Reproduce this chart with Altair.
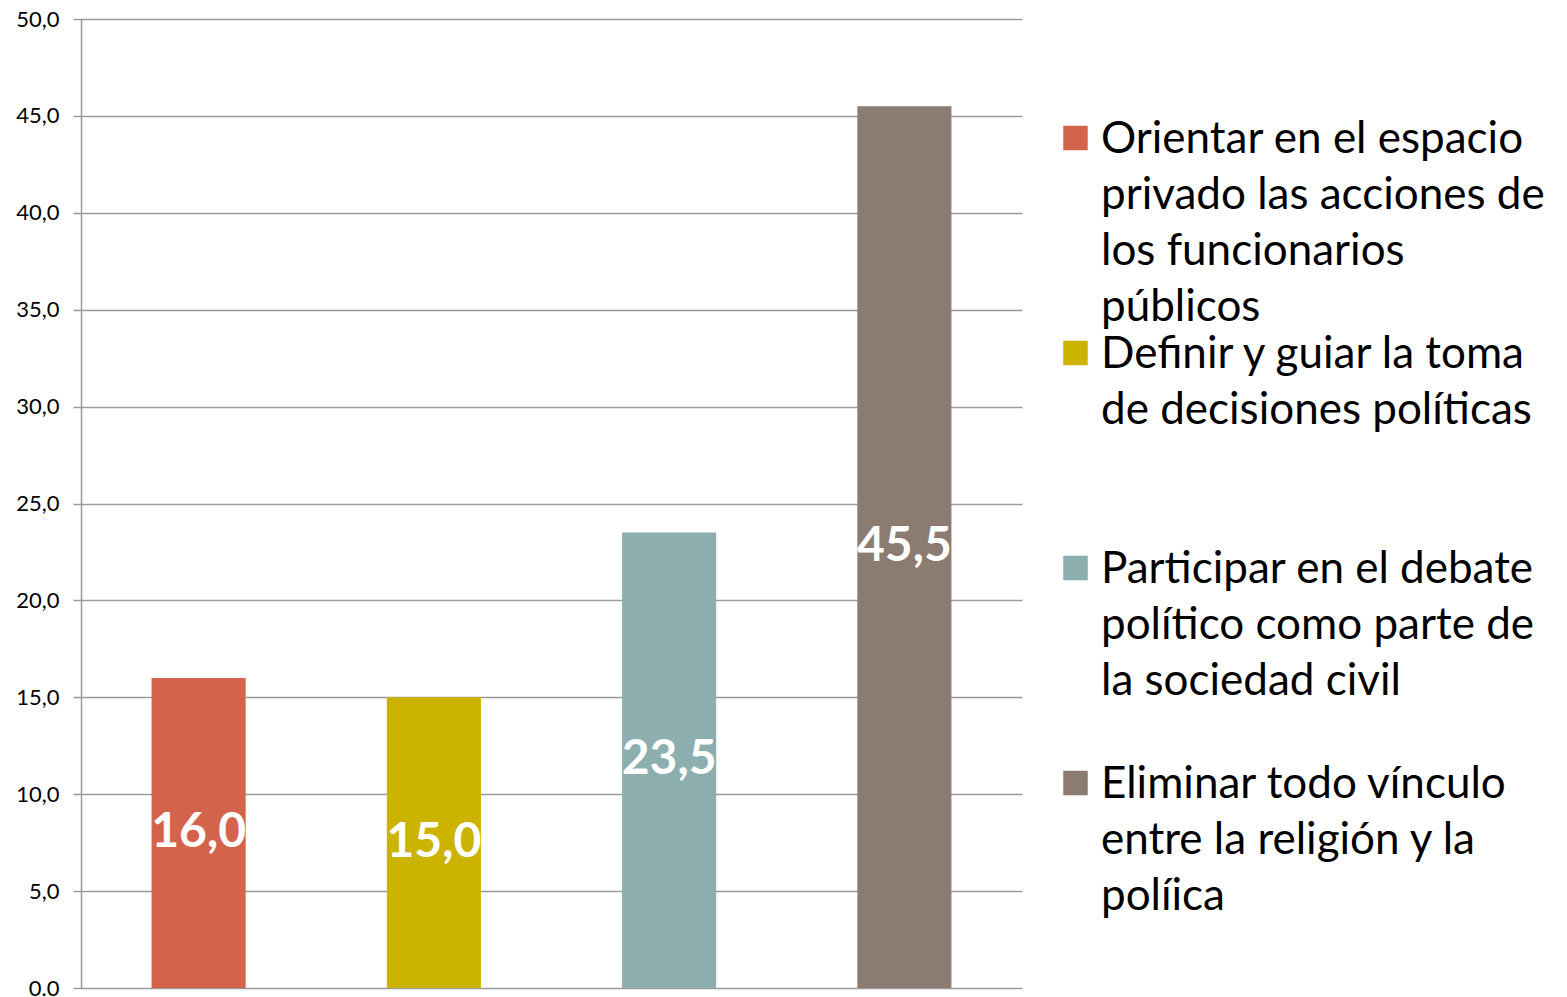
import altair as alt
import pandas as pd

categories = [
    "Orientar en el espacio privado las acciones de los funcionarios públicos",
    "Definir y guiar la toma de decisiones políticas",
    "Participar en el debate político como parte de la sociedad civil",
    "Eliminar todo vínculo entre la religión y la políica",
]
legend_lines = [
    "Orientar en el espacio|privado las acciones de|los funcionarios|públicos",
    "Definir y guiar la toma|de decisiones políticas",
    "Participar en el debate|político como parte de|la sociedad civil",
    "Eliminar todo vínculo|entre la religión y la|políica",
]
values = [16.0, 15.0, 23.5, 45.5]
colors = ["#D3644B", "#CCB300", "#8DAEAF", "#8C7B70"]

FONT = "Lato"
GRID = "#9a9a9a"

df = pd.DataFrame({"cat": categories, "value": values, "legend": legend_lines})

x = alt.X("cat:N", sort=categories, axis=None,
          scale=alt.Scale(paddingInner=0.6, paddingOuter=0.3))
color = alt.Color("cat:N", scale=alt.Scale(domain=categories, range=colors), legend=None)

base = alt.Chart(df).transform_calculate(
    mid="datum.value / 2",
    label="replace(format(datum.value, '.1f'), '.', ',')",
)

bars = base.mark_bar().encode(
    x=x,
    y=alt.Y("value:Q",
            scale=alt.Scale(domain=[0, 50], nice=False),
            axis=alt.Axis(values=list(range(0, 51, 5)), title=None,
                          labelExpr="datum.value == 0 ? '0.0' : replace(format(datum.value, '.1f'), '.', ',')",
                          labelFont=FONT, labelFontSize=22, labelColor="#000000",
                          labelPadding=14, tickSize=8, tickColor=GRID, tickWidth=1.5,
                          domainColor=GRID, domainWidth=1.5,
                          grid=True, gridColor=GRID, gridWidth=1.5)),
    color=color,
)

labels = base.mark_text(font=FONT, fontSize=48, fontWeight="bold", color="white",
                        baseline="middle", align="center").encode(
    x=x,
    y=alt.Y("mid:Q"),
    text="label:N",
)

main = alt.layer(bars, labels).properties(width=941, height=969)

ypos = alt.Y("cat:N", sort=categories, axis=None,
             scale=alt.Scale(type="point", domain=categories, range=[134, 779], padding=0))

leg_sq = alt.Chart(df).mark_square(size=600, opacity=1, yOffset=-15).encode(
    x=alt.value(24.5),
    y=ypos,
    color=color,
)
leg_txt = alt.Chart(df).mark_text(font=FONT, fontSize=44, align="left",
                                  baseline="alphabetic", lineBreak="|",
                                  lineHeight=56, color="#000000").encode(
    x=alt.value(50),
    y=ypos,
    text="legend:N",
)
legend = alt.layer(leg_sq, leg_txt).properties(width=470, height=969)

chart = alt.hconcat(main, legend, spacing=29).properties(
    padding={"left": 7, "top": 0, "right": 0, "bottom": 0}
).configure_view(stroke=None)

chart.save("out.html", embed_options={"renderer": "svg", "actions": False})
